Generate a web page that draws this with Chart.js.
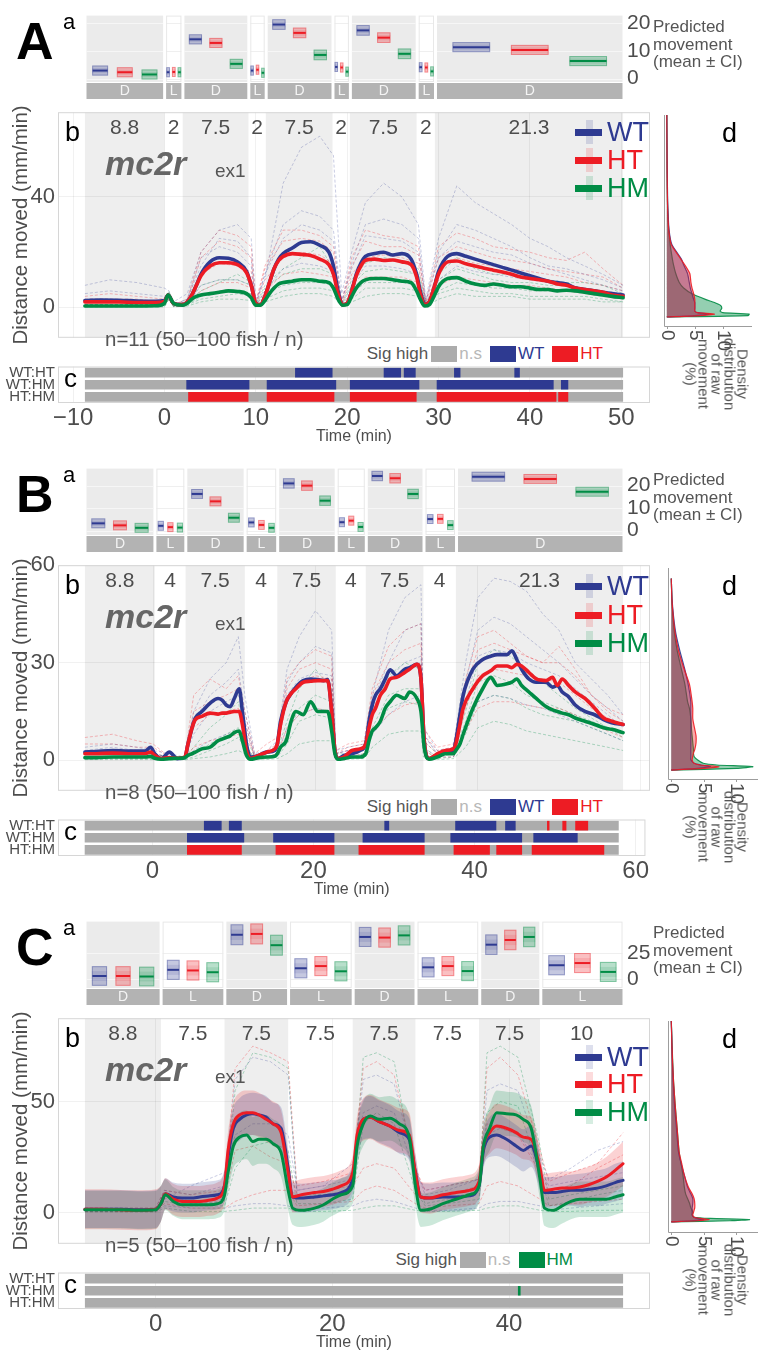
<!DOCTYPE html>
<html><head><meta charset="utf-8">
<script src="https://cdn.jsdelivr.net/npm/chart.js@4.4.1/dist/chart.umd.min.js"></script>
<style>
html,body{margin:0;padding:0;background:#fff;}
#fig{position:relative;width:762px;height:1360px;overflow:hidden;font-family:'Liberation Sans',Arial,sans-serif;color:#4d4d4d;background:#fff;}
.t{position:absolute;white-space:nowrap;line-height:1;}
canvas{position:absolute;}
</style></head><body><div id="fig"></div>
<script>
// ================= DATA =================
const genotypes = ['WT','HT','HM'];

// ---------- Panel A ----------
const periodTypesA  = ['D','L','D','L','D','L','D','L','D'];
const periodBoundsA = [-8.7,0,2,9.2,11.1,18.4,20.3,27.6,29.6,50.2];
const periodLabelsA = ['8.8','2','7.5','2','7.5','2','7.5','2','21.3'];
const predA_WT = [2.9,2.3,14.1,2.9,19.4,4.2,17.3,4.1,11.3];
const predA_HT = [2.3,2.4,12.8,3.2,16.4,4.0,14.7,4.0,10.3];
const predA_HM = [1.5,2.3,5.3,2.1,8.5,2.5,8.9,2.6,6.3];
const predCiA  = [1.8,1.8,1.8,1.8,1.9,1.8,1.9,1.8,1.8];
const aTicksA = [0,10,20];
const yTicksA = [0,40];
const xTicksA = [-10,0,10,20,30,40,50];
const xTickLabelsA = ['\u221210','0','10','20','30','40','50'];
const timeA = [-8.7,-7,-5,-3,-1, 0,0.4,1,2,2.5, 3,3.5,4,5,6, 7,8,9,9.5,10, 10.5,11,11.5,12,12.5, 13,14,15,16,17, 18,18.5,19,19.5,20, 20.5,21,21.5,22,23, 24,25,26,27,27.6, 28,28.5,29,29.5,30, 30.5,31,32,33,34, 35,36,37,38,39, 40,41,42,43,44, 45,46,47,48,49, 50.2];
const meanA_WT = [2.5,2.7,2.6,2.3,2.2, 2.5,4.5,1.5,1,2, 4.5,8,12,16.5,18, 17.8,16.5,13,8,1.5, 1,4,9,14,17.5, 19.5,21.5,23.5,23.8,22.5, 20,15,6,1,1.5, 6,12,16,18.5,19.5, 20,19,19.5,17.5,12, 6,1,2,7,13, 16.5,18.5,19.5,18.5,17.5, 16.5,15.5,14.5,13.5,12.5, 11.5,10.5,9.5,9,8.5, 7,6.5,6,5.5,5, 4.5];
const meanA_HT = [2,2,2,1.8,1.8, 2.2,4.5,1.5,1,2, 4.5,8,11.5,15,16.2, 16.2,15.5,12.5,8,1.5, 1,4,9,14,17, 18.5,19.5,19.2,18.8,17.5, 15.5,12,5,1,1.5, 6,11.5,15,17,17.5, 17,17.2,16.5,15.5,11, 5,1,2,7,12, 15,16.5,16.8,15.8,15, 14.2,13.5,12.8,12,11, 10.5,10,9.5,8.5,8, 7,6.5,6,5.5,4.5, 4];
const meanA_HM = [0.5,0.5,0.5,0.5,0.6, 1.5,4.5,1.5,0.8,1.5, 3,4,4.5,5,5.5, 6,5.8,5,3.5,0.8, 0.8,2.5,5,7,8.5, 9,9.5,10,10,9.5, 9,7,3,0.8,1, 4,7,9,10,10.5, 10.5,10,9.5,9,6, 3,0.5,1,4,7.5, 9.5,10.5,10.8,9.5,8.5, 8,8.5,8,7.5,7.5, 7,6.5,6.5,6,6.2, 6,5.5,5,4.5,4, 3.5];
const timeIndA = [-8.7,-6,-3,0,0.5, 1,2.5,4,6,8, 9.5,10,11,13,15, 17,18.5,19.4,20.5,22, 24,26,27.8,28.6,30, 32,34,36,38,40, 42,44,46,48,50.2];
const indA_WT1 = [8,10,9,7,6, 2,5,20,28,30, 25,3,10,45,58, 62,55,5,20,38, 45,40,30,3,25, 44,38,34,30,25, 22,18,15,12,8];
const indA_WT2 = [3,3,2,2,4, 1,3,18,22,20, 15,1,12,25,30, 28,24,2,14,26, 25,24,20,2,18, 24,22,20,19,16, 14,12,10,8,6];
const indA_WT3 = [1,1,1,1,3, 0.5,1,8,10,10, 8,0.5,6,14,16, 15,13,0.5,8,15, 15,14,12,0.5,10, 15,13,12,11,10, 9,8,7,6,5];
const indA_WT4 = [5,6,5,4,5, 1,3,15,25,24, 18,1,12,30,35, 33,28,2,16,30, 32,30,25,2,20, 30,28,25,22,18, 15,14,12,10,7];
const indA_HT1 = [4,5,4,3,5, 1,3,20,28,26, 22,2,15,28,28, 26,22,2,18,28, 26,25,22,2,22, 27,25,22,21,20, 18,17,20,14,8];
const indA_HT2 = [2,2,2,2,4, 1,2,12,16,15, 13,1,10,18,20, 19,16,1,12,18, 19,18,16,1,14, 18,16,15,14,13, 12,11,9,8,6];
const indA_HT3 = [1,1,1,1,3, 0.5,1,6,9,9, 7,0.5,6,12,13, 12,11,0.5,6,11, 11,11,9,0.5,8, 11,10,9,8,8, 7,6,5,4,3];
const indA_HT4 = [3,3,3,2,4, 1,2,18,24,22, 18,1,14,24,25, 24,20,1,15,24, 22,22,19,1,18, 22,20,18,17,16, 14,13,12,11,7];
const indA_HM1 = [1,1,1,1,6, 1,2,8,10,10, 8,1,8,14,18, 22,14,1,10,16, 18,17,14,1,12, 18,14,12,12,11, 10,9,9,8,5];
const indA_HM2 = [0.5,0.5,0.5,0.5,4, 0.5,1,4,6,6, 5,0.5,5,8,9, 9,8,0.5,5,9, 9,9,8,0.5,6, 9,8,7,7,6, 6,6,5,4,3];
const indA_HM3 = [0.2,0.2,0.2,0.2,3, 0.2,0.5,2,3,3, 2.5,0.2,2,4,5, 5,4,0.2,2,4, 5,5,4,0.2,3, 5,4,4,4,3, 3,3,3,2,2];
const indA_HM4 = [1,1,1,1,5, 1,2,6,9,12, 9,1,7,12,14, 14,12,1,8,13, 14,13,12,1,10, 14,12,10,9,9, 8,8,7,6,4];
const indA_HM5 = [0.3,0.3,0.3,0.3,3, 0.3,1,3,4,5, 4,0.3,3,6,7, 7,6,0.3,3,7, 7,7,6,0.3,5, 7,6,5,5,4, 4,4,4,3,2];
const sigA_WTHT = [[14.3,18.4,'WT'],[24.0,25.9,'WT'],[26.2,27.5,'WT'],[31.7,32.4,'WT'],[38.3,38.9,'WT']];
const sigA_WTHM = [[2.4,9.3,'WT'],[11.2,18.8,'WT'],[20.3,27.9,'WT'],[29.8,42.6,'WT'],[43.4,44.2,'WT']];
const sigA_HTHM = [[2.6,9.2,'HT'],[11.2,18.6,'HT'],[20.3,27.6,'HT'],[29.8,42.9,'HT'],[43.1,44.2,'HT']];
const densGridA = [0,0.5,1,1.5,2,3,4,5,6,8,10,12,15,18,20,25,30,35,40,50,60,70];
const densA_WT = [0,5,7.5,5.5,5,5,5,5,4.8,4.5,4.2,4,3.7,3,2.6,0.9,0.4,0.25,0.15,0.08,0.04,0];
const densA_HT = [0,6,8.5,5.5,5,5,5,5,5,4.8,4.5,4.3,4.1,3.2,2.5,0.8,0.35,0.2,0.12,0.06,0.03,0];
const densA_HM = [0,14.5,14.7,10,9.5,9.8,9.6,8.5,7,4.5,3,2.2,1.6,1.2,1,0.6,0.35,0.2,0.12,0.06,0.03,0];

// ---------- Panel B ----------
const periodTypesB  = ['D','L','D','L','D','L','D','L','D'];
const periodBoundsB = [-8.4,0.2,4,11.3,15.3,22.5,26.2,33.3,37.3,57.9];
const periodLabelsB = ['8.8','4','7.5','4','7.5','4','7.5','4','21.3'];
const predB_WT = [3.2,2.1,16.3,3.6,21,3.7,24.3,5.1,24];
const predB_HT = [2.3,1.5,13,2.5,20,4.4,23.3,5.2,23];
const predB_HM = [1.2,1.3,5.7,1.2,13.3,1.6,16.3,2.4,17.3];
const predCiB  = [2.2,2.2,2.2,2.2,2.3,2.2,2.3,2.2,2.2];
const aTicksB = [0,10,20];
const yTicksB = [0,30,60];
const xTicksB = [0,20,40,60];
const xTickLabelsB = ['0','20','40','60'];
const timeB = [-8.4,-7,-5,-3,-1, -0.3,0.2,1,2,3, 3.9,4.3,4.8,5.2,6, 7,8,8.5,9,9.5, 10,10.6,11,11.5,12, 13,14,15,15.3,15.7, 16.4,17,17.6,18.5,19.4, 20.3,21,21.5,22,22.4, 22.8,23.5,24.5,25.5,26.2, 26.6,27,27.4,28,28.6, 29.2,30,31,31.6,32.5, 33,33.4,34,35,36, 37,37.3,37.8,38.2,39.4, 40.6,41.6,42.4,43.6,44.2, 44.8,45.4,46.3,47.2,48.4, 49.2,49.8,50.4,51.2,52, 53.2,54.4,55.5,56.5,57.9];
const meanB_WT = [2.5,2.7,3,2.8,2.8, 4,2,0.5,2.5,0.5, 0.8,5,10,13,15, 17.5,19,18.5,17,16.5, 19,22,15,5,1, 1.5,2.5,3,5,12, 18,20.5,22.5,24.5,25, 24.8,24.5,24.8,15,3, 0.5,1.5,2,3,5, 12,17,20,22,25, 27.8,26,28,28.5,29.5, 25,6,0.5,1.5,2.5, 3,6,14,20,28, 31,32,32.5,32.5,33.7, 31,28,25,24,24, 22.5,23,21,19.5,17, 15,14,12.5,11.5,11];
const meanB_HT = [2,2,2.2,2,2, 2.5,1.5,0.5,0.8,0.6, 1,5,10,12.5,13.5, 14.5,14.2,14.5,14.5,14.8, 15,15,11,3,0.5, 1.5,2.5,3.5,5,11, 18,20.5,22,24,24.3, 24.5,24.5,24.5,15,3, 0.5,1,3,3.5,5, 10,14,16,20,22, 25,25.5,27,28,29.5, 25,6,0.5,2,3, 3.5,5,11,16,22, 26,27.5,29,29,28.5, 29.5,29,27,25,24.5, 25.5,23,25,23,21, 19,16,13,12,11];
const meanB_HM = [0.8,0.8,1,1,1, 1.2,0.6,0.3,0.5,0.6, 0.8,1.5,2,2.5,3.5, 4,6,6.5,7,7.5, 8.5,9,6,1.5,0.3, 0.8,1,1.2,2,4, 6,12,15,14,18, 15,15,15,9,2, 0.3,0.5,1,1,2, 6,9,10,12,16, 18,20,19,21,19, 15,4,0.3,1,2, 2,3,5,8,16, 22,25.5,23,23.5,24, 25,23,21,19,16.5, 15.5,15,14.5,14,13, 12,11,10,9.5,8.5];
const timeIndB = [-8.4,-5,-2,0,2, 3.9,5,7,9,10.5, 11.3,12.5,14,15.3,16.5, 18,20,22,22.5,24, 26,27,29,31,33, 33.3,35,37,38.5,40, 42,44,46,48,50, 52,54,56,57.9];
const indB_WT1 = [4,5,4,3,2, 1,15,25,30,38, 20,2,3,6,28, 38,46,40,3,4, 5,20,40,50,54, 10,3,4,30,50, 56,55,52,45,40, 30,25,20,14];
const indB_WT2 = [2,3,3,2,1, 1,8,15,18,20, 12,1,2,4,20, 25,27,26,2,3, 4,15,25,30,32, 8,2,3,18,32, 34,33,30,28,26, 22,18,14,10];
const indB_WT3 = [1,1,1,1,0.5, 0.5,3,6,8,9, 5,0.5,1,2,10, 14,16,15,1,1, 2,8,14,18,20, 4,1,1,10,18, 20,19,17,16,14, 12,10,8,6];
const indB_WT4 = [3,4,3,2,1, 1,12,20,24,28, 15,1,2,5,24, 30,35,33,2,3, 4,18,30,40,42, 8,2,3,24,40, 44,42,38,34,30, 25,20,16,12];
const indB_HT1 = [7,8,6,5,1, 1,20,25,22,26, 15,2,5,7,25, 30,34,32,3,5, 6,22,35,40,42, 10,4,5,25,38, 40,36,32,30,35, 28,20,16,14];
const indB_HT2 = [3,3,3,2,1, 1,10,14,15,16, 10,1,2,4,18, 24,26,25,2,3, 4,16,24,28,30, 6,2,3,16,26, 28,27,26,25,24, 20,16,13,11];
const indB_HT3 = [1,1,1,1,0.5, 0.5,4,6,7,8, 5,0.5,1,2,10, 14,16,15,1,1, 2,9,14,17,18, 3,1,1,9,16, 18,18,17,16,16, 14,11,9,7];
const indB_HT4 = [5,5,4,4,1, 1,15,18,20,22, 12,1,3,5,22, 28,30,28,2,4, 5,20,30,34,36, 8,3,4,22,34, 36,34,32,30,30, 26,20,15,12];
const indB_HM1 = [2,2,2,2,1, 1,4,10,14,18, 8,1,2,3,12, 22,28,22,2,2, 3,14,26,30,28, 6,2,3,15,30, 34,32,28,24,20, 16,13,10,8];
const indB_HM2 = [0.5,0.5,0.5,0.5,0.3, 0.3,1,3,5,7, 4,0.3,0.5,1,5, 12,14,13,0.5,0.5, 1,8,16,18,17, 3,0.5,1,8,18, 20,19,16,14,13, 12,10,8,6];
const indB_HM3 = [0.2,0.2,0.2,0.2,0.1, 0.1,0.5,1,2,3, 2,0.1,0.2,0.5,2, 5,6,6,0.2,0.3, 0.5,4,8,9,9, 1,0.2,0.5,4,10, 12,11,9,8,7, 6,5,4,3];
const indB_HM4 = [1,1,1,1,0.5, 0.5,2,5,8,10, 5,0.5,1,2,8, 16,20,18,1,1, 2,10,20,22,22, 4,1,2,12,24, 26,24,20,18,16, 14,12,10,7];
const sigB_WTHT = [[6.4,8.6,'WT'],[9.5,11.1,'WT'],[28.8,29.4,'WT'],[37.6,42.7,'WT'],[43.8,45.1,'WT'],[49.0,49.3,'HT'],[50.9,51.4,'HT'],[52.5,54.1,'HT']];
const sigB_WTHM = [[4.3,11.4,'WT'],[15.0,22.6,'WT'],[26.1,33.8,'WT'],[37.0,45.9,'WT'],[47.3,52.8,'WT']];
const sigB_HTHM = [[4.3,11.1,'HT'],[15.3,22.6,'HT'],[25.6,33.8,'HT'],[37.4,41.9,'HT'],[42.7,45.9,'HT'],[47.1,56.1,'HT']];
const densGridB = [0,0.5,1,1.5,2,3,4,5,6,8,10,12,15,18,20,25,30,35,40,45,50,56];
const densB_WT = [0,4,6,4.5,3.5,3,3,3,3,3,3,3,3,3,3,2.6,2,1.3,0.7,0.35,0.12,0];
const densB_HT = [0,5,7.3,4.5,3.5,3.2,3.3,3.4,3.6,3.8,3.8,3.6,3.3,3.3,3.2,2.8,1.9,1.1,0.6,0.3,0.1,0];
const densB_HM = [0,10,12.5,7,4.9,4,3.5,3.4,3.4,3.3,3.2,3.1,3,2.8,2.5,2.1,1.5,0.9,0.5,0.25,0.1,0];

// ---------- Panel C ----------
const periodTypesC  = ['D','L','D','L','D','L','D','L'];
const periodBoundsC = [-8,0.6,7.8,15,22.3,29.4,36.6,43.5,52.9];
const periodLabelsC = ['8.8','7.5','7.5','7.5','7.5','7.5','7.5','10'];
const predC_WT = [2.9,8.8,42.4,10.3,40.3,11.2,32.9,13.2];
const predC_HT = [2.9,8.2,43.2,12.4,39.7,12.4,37.4,15.3];
const predC_HM = [2.4,6.5,32.4,7.4,41.8,7.6,40.3,6.8];
const predCiC  = [9.4,9.6,10,9.6,9.6,9.6,9.8,9.6];
const aTicksC = [0,25];
const yTicksC = [0,50];
const xTicksC = [0,20,40];
const xTickLabelsC = ['0','20','40'];
const timeC = [-8,-6,-4,-2,0, 0.6,1.1,2,3,4, 5,6,7,7.8,8.2, 8.8,9.5,10.3,11,11.7, 12.5,13.3,14.2,15,15.5, 16.5,18,19,20,21, 22.3,22.8,23.5,24.3,25.3, 26.5,27.6,28.7,29.4,30, 31,32.5,34,35.5,36.6, 37.1,37.8,38.6,39.7,40.8, 41.6,42.5,43.5,44,45, 46,47,48,49,50, 51,52,52.9];
const meanC_WT = [1.5,1.5,1.5,1.2,1.5, 4,8.5,7,6.5,6.5, 7,7.5,8,12,25, 38,42,44,44.5,44, 43,40,38,20,7, 6.5,7,7.5,8,9, 15,32,42,43,41, 39,36,33,18,7, 6.5,7,7,7.5,12, 28,34,35,33,30, 28,30,18,9,9, 9.5,10,10,10.5,11, 12,13.5,14.5];
const meanC_HT = [1.5,1.5,1.2,1,1.5, 4,8.5,6,5,5, 5,5.5,6.5,12,28, 40,44,45,45,44, 42,40,36,18,7, 8,9,9.5,10.5,12, 18,35,42,43,41, 39,37,35,18,7, 6.5,8,9,10,14, 30,36,39,38,36, 34,33,20,10,10.5, 11,11,11.5,12.5,14, 16,19,22];
const meanC_HM = [1.3,1.3,1.3,1,1.2, 4,8,5,3.5,3.5, 3.5,3.5,4,8,18, 30,34,35,32,33, 33,31,27,10,2, 1,2,3.5,6,8, 12,30,40,43.5,42, 42.5,40,34,12,1, 1.5,4,6,8,12, 30,38,45,44.5,44, 42,38,15,2,1, 3,5,6,6,6, 6,7,8];
const ciC_WT = [8.5,8.5,8.5,8.5,8.5, 8,7,6.5,6.5,6.5, 6.5,6.5,6.5,7,8, 9,9.5,9.5,9.5,9.5, 9.5,9.5,9.5,8,6.5, 6.5,6.5,6.5,6.5,6.5, 7,8,9,9.5,9.5, 9.5,9.5,9.5,8,6.5, 6.5,6.5,6.5,6.5,7, 8,9,9.5,9.5,9.5, 9.5,9.5,8,7,7, 7,7,7.5,7.5,8, 8,8.5,8.5];
const ciC_HT = [9,9,9,9,9, 8,7,7,7,7, 7,7,7,7.5,8.5, 9.5,10,10,10,10, 10,10,10,8.5,7, 7,7,7,7,7, 7.5,8.5,9.5,10,10, 10,10,10,8.5,7, 7,7,7,7,7.5, 8.5,9.5,10,10,10, 10,10,8.5,7.5,7.5, 7.5,7.5,8,8,8.5, 9,9.5,10];
const ciC_HM = [8.5,8.5,8.5,8.5,8.5, 8,7,6.5,6.5,6.5, 6.5,6.5,6.5,7,8.5, 10,11,11,11,11, 11,11,11,9,7.5, 7.5,7.5,7.5,7.5,7.5, 8,9,10,10,10, 10,10,10,9,7.5, 7.5,7.5,7.5,7.5,8, 9,10,10,10,10, 10,10,9,8,8, 8,8,8,8,8, 8,8,8];
const timeIndC = [-8,-4,0,1,4, 7.8,9,11,13,15, 16,19,22.3,23.5,25, 27,29.4,30.5,33,36.6, 37.5,39,41,43.5,44.5, 47,50,52.9];
const indC_WT1 = [2,2,2,10,8, 12,60,70,68,62, 10,12,15,60,62, 58,20,8,10,15, 55,58,55,25,15, 20,28,32];
const indC_WT2 = [1,1,1,6,12, 18,35,40,40,35, 10,12,22,45,48, 45,18,10,12,15, 35,38,36,20,12, 14,16,18];
const indC_WT3 = [0.5,0.5,0.5,3,2, 2,3,4,4,3, 1,2,3,5,6, 5,2,1,1,2, 4,5,5,3,1, 2,3,4];
const indC_HT1 = [2,2,2,10,8, 10,65,75,72,68, 12,14,18,65,68, 62,20,10,12,15, 65,70,62,28,14, 18,22,36];
const indC_HT2 = [1,1,1,8,5, 6,28,30,25,22, 8,10,12,20,22, 20,8,6,8,12, 40,38,35,18,10, 12,20,26];
const indC_HT3 = [0.5,0.5,0.5,4,2, 2,5,8,10,10, 3,4,5,10,12, 10,4,2,3,4, 12,14,12,6,3, 4,5,6];
const indC_HM1 = [1,1,1,8,4, 5,55,72,70,65, 8,8,10,70,72, 68,15,4,6,10, 72,75,70,30,6, 8,10,12];
const indC_HM2 = [0.5,0.5,0.5,5,3, 3,20,30,32,28, 4,4,6,40,45, 40,10,3,4,6, 45,50,48,18,3, 5,8,10];
const indC_HM3 = [0.2,0.2,0.2,2,0.5, 0.5,1,2,2,2, 0.5,0.5,1,2,3, 3,1,0.5,0.5,1, 2,3,3,1,0.5, 0.5,1,1];
const sigC_WTHT = [];
const sigC_WTHM = [[41.0,41.3,'HM']];
const sigC_HTHM = [];
const densGridC = [0,0.5,1,1.5,2,3,4,5,6,8,10,12,15,20,25,30,40,50,60,70,80,86];
const densC_WT = [0,3,5,4,3.5,3.2,3.2,3.2,3.2,3.3,3.3,3,2.5,2,1.5,1.1,0.8,0.5,0.3,0.15,0.06,0];
const densC_HT = [0,4,5.8,4.5,3.5,3.3,3.4,3.5,3.6,3.6,3.5,3.2,2.6,2,1.6,1.2,0.9,0.6,0.35,0.18,0.06,0];
const densC_HM = [0,9,12,6,3.5,3.2,3.3,3.2,3,2.8,2.5,2.2,2,1.8,1.5,1.2,0.9,0.6,0.35,0.2,0.08,0];

const densTicks = [0,5,10];
const densTickLabels = ['0','5','10'];
const sigRows = ['WT:HT','WT:HM','HT:HM'];

// ================= STYLE / BUILD =================
Chart.defaults.font.family = "'Liberation Sans', Arial, sans-serif";
Chart.defaults.color = '#4d4d4d';
const COL = {WT:[46,58,145], HT:[237,28,36], HM:[0,140,69]};
const rgba = (g,a)=>`rgba(${COL[g].join(',')},${a})`;
const fig = document.getElementById('fig');

function addCanvas(x,y,w,h){const c=document.createElement('canvas');c.width=w;c.height=h;c.style.left=x+'px';c.style.top=y+'px';c.style.width=w+'px';c.style.height=h+'px';fig.appendChild(c);return c;}
function txt(s,x,y,css,anchor){const d=document.createElement('div');d.className='t';d.textContent=s;d.style.left=x+'px';d.style.top=y+'px';Object.assign(d.style,css||{});
  d.style.transform=anchor==='c'?'translate(-50%,-50%)':(anchor==='r'?'translate(-100%,-50%)':'translate(0,-50%)');fig.appendChild(d);return d;}

const panels = [
 {key:'A',top:0,types:periodTypesA,bounds:periodBoundsA,labels:periodLabelsA,pred:{WT:predA_WT,HT:predA_HT,HM:predA_HM},predCi:predCiA,
  aRange:[-1.2,22.6],aTicks:aTicksA,yRange:[-11,70.7],yTicks:yTicksA,xTicks:xTicksA,xTickLabels:xTickLabelsA,
  t:timeA,mean:{WT:meanA_WT,HT:meanA_HT,HM:meanA_HM},ci:null,tInd:timeIndA,
  ind:{WT:[indA_WT1,indA_WT2,indA_WT3,indA_WT4],HT:[indA_HT1,indA_HT2,indA_HT3,indA_HT4],HM:[indA_HM1,indA_HM2,indA_HM3,indA_HM4,indA_HM5]},
  sig:[sigA_WTHT,sigA_WTHM,sigA_HTHM],sigLeg:['WT','HT'],sigRight:604,
  dGrid:densGridA,dens:{WT:densA_WT,HT:densA_HT,HM:densA_HM},dX:[-0.5,15.2],dY:[-3.1,69.7],dPad:[24,10],
  n:'n=11 (50\u2013100 fish / n)',legY:[132,160,188],meanW:3.6},
 {key:'B',top:453,types:periodTypesB,bounds:periodBoundsB,labels:periodLabelsB,pred:{WT:predB_WT,HT:predB_HT,HM:predB_HM},predCi:predCiB,
  aRange:[-2,27.6],aTicks:aTicksB,yRange:[-9.4,60],yTicks:yTicksB,xTicks:xTicksB,xTickLabels:xTickLabelsB,
  t:timeB,mean:{WT:meanB_WT,HT:meanB_HT,HM:meanB_HM},ci:null,tInd:timeIndB,
  ind:{WT:[indB_WT1,indB_WT2,indB_WT3,indB_WT4],HT:[indB_HT1,indB_HT2,indB_HT3,indB_HT4],HM:[indB_HM1,indB_HM2,indB_HM3,indB_HM4]},
  sig:[sigB_WTHT,sigB_WTHM,sigB_HTHM],sigLeg:['WT','HT'],sigRight:604,
  dGrid:densGridB,dens:{WT:densB_WT,HT:densB_HT,HM:densB_HM},dX:[-0.5,13.3],dY:[-2.6,59.1],dPad:[28,4],
  n:'n=8 (50\u2013100 fish / n)',legY:[133,162,190],meanW:3.6},
 {key:'C',top:906,types:periodTypesC,bounds:periodBoundsC,labels:periodLabelsC,pred:{WT:predC_WT,HT:predC_HT,HM:predC_HM},predCi:predCiC,
  aRange:[-8.6,55],aTicks:aTicksC,yRange:[-14.1,87.6],yTicks:yTicksC,xTicks:xTicksC,xTickLabels:xTickLabelsC,
  t:timeC,mean:{WT:meanC_WT,HT:meanC_HT,HM:meanC_HM},ci:{WT:ciC_WT,HT:ciC_HT,HM:ciC_HM},tInd:timeIndC,
  ind:{WT:[indC_WT1,indC_WT2,indC_WT3],HT:[indC_HT1,indC_HT2,indC_HT3],HM:[indC_HM1,indC_HM2,indC_HM3]},
  sig:[sigC_WTHT,sigC_WTHM,sigC_HTHM],sigLeg:['HM'],sigRight:574,
  dGrid:densGridC,dens:{WT:densC_WT,HT:densC_HT,HM:densC_HM},dX:[-0.5,13.3],dY:[-4.3,85.9],dPad:[28,4],
  n:'n=5 (50\u2013100 fish / n)',legY:[151,178,206],meanW:3}
];

const FONT = "'Liberation Sans', Arial, sans-serif";

function aPlugin(P){return {id:'aPanel',
 beforeDraw(chart){const {ctx,chartArea:ca,scales:{x,y}}=chart;ctx.save();
  for(let i=0;i<P.types.length;i++){
   const x0=x.getPixelForValue(P.bounds[i])+1.5,x1=x.getPixelForValue(P.bounds[i+1])-1.5,D=P.types[i]==='D';
   ctx.fillStyle=D?'#ebebeb':'#ffffff';ctx.fillRect(x0,ca.top,x1-x0,ca.bottom-ca.top);
   ctx.lineWidth=1;ctx.strokeStyle=D?'#f6f6f6':'#efefef';
   P.aTicks.forEach(v=>{const py=Math.round(y.getPixelForValue(v))+0.5;ctx.beginPath();ctx.moveTo(x0,py);ctx.lineTo(x1,py);ctx.stroke();});
   if(!D){ctx.strokeStyle='#e8e8e8';ctx.strokeRect(x0+0.5,ca.top+0.5,x1-x0-1,ca.bottom-ca.top-1);}
   ctx.fillStyle='#b3b3b3';ctx.fillRect(x0,ca.bottom+1,x1-x0,16);
   ctx.fillStyle='#f4f4f4';ctx.font='14px '+FONT;ctx.textAlign='center';ctx.textBaseline='middle';
   ctx.fillText(P.types[i],(x0+x1)/2,ca.bottom+9.5);
  }ctx.restore();},
 afterDraw(chart){const {ctx,scales:{x,y}}=chart;ctx.save();const fr=[0.19,0.5,0.81];
  genotypes.forEach((g,k)=>{P.pred[g].forEach((m,i)=>{
   const b0=P.bounds[i],b1=P.bounds[i+1],d=b1-b0,c=b0+fr[k]*d;
   const px0=x.getPixelForValue(c-0.1*d),px1=x.getPixelForValue(c+0.1*d);
   const ci=P.predCi[i],py0=y.getPixelForValue(m+ci),py1=y.getPixelForValue(m-ci),pm=y.getPixelForValue(m);
   ctx.fillStyle=rgba(g,0.28);ctx.fillRect(px0,py0,px1-px0,py1-py0);
   ctx.fillStyle=rgba(g,0.12);ctx.fillRect(px0,pm-(pm-py0)*0.5,px1-px0,(py1-py0)*0.5);
   ctx.strokeStyle=rgba(g,0.35);ctx.lineWidth=1;ctx.strokeRect(px0+0.5,py0+0.5,px1-px0-1,py1-py0-1);
   ctx.strokeStyle=rgba(g,1);ctx.lineWidth=2;ctx.beginPath();ctx.moveTo(px0+0.5,pm);ctx.lineTo(px1-0.5,pm);ctx.stroke();
  });});ctx.restore();}};}

function bPlugin(P){return {id:'bPanel',
 beforeDraw(chart){const {ctx,chartArea:ca,scales:{x}}=chart;ctx.save();ctx.fillStyle='#fff';ctx.fillRect(ca.left,ca.top,ca.width,ca.height);
  P.types.forEach((tp,i)=>{if(tp!=='D')return;const x0=x.getPixelForValue(P.bounds[i]),x1=x.getPixelForValue(P.bounds[i+1]);ctx.fillStyle='#eeeeee';ctx.fillRect(x0,ca.top,x1-x0,ca.height);});
  ctx.restore();},
 beforeDatasetsDraw(chart){const {ctx,chartArea:ca,scales:{x}}=chart;ctx.save();ctx.fillStyle='#4d4d4d';ctx.font='21px '+FONT;ctx.textAlign='center';ctx.textBaseline='middle';
  P.labels.forEach((l,i)=>{const xm=x.getPixelForValue((P.bounds[i]+P.bounds[i+1])/2);ctx.fillText(l,xm,ca.top+16);});ctx.restore();},
 afterDraw(chart){const {ctx,chartArea:ca}=chart;ctx.save();ctx.strokeStyle='#d6d6d6';ctx.lineWidth=1;ctx.strokeRect(ca.left+0.5,ca.top+0.5,ca.width-1,ca.height-1);ctx.restore();}};}

function cPlugin(P){return {id:'cPanel',afterDraw(chart){const {ctx,chartArea:ca}=chart;ctx.save();ctx.strokeStyle='#d6d6d6';ctx.lineWidth=1;ctx.strokeRect(ca.left+0.5,ca.top+0.5,ca.width-1,ca.height-1);ctx.restore();}};}

function dPlugin(P){return {id:'dPanel',afterDraw(chart){const {ctx,chartArea:ca,scales:{x}}=chart;ctx.save();ctx.strokeStyle='#9d9d9d';ctx.lineWidth=1;
  ctx.beginPath();ctx.moveTo(ca.left+0.5,ca.top);ctx.lineTo(ca.left+0.5,ca.bottom+0.5);ctx.lineTo(ca.right,ca.bottom+0.5);ctx.stroke();
  densTicks.forEach((v,i)=>{const px=Math.round(x.getPixelForValue(v))+0.5;ctx.beginPath();ctx.moveTo(px,ca.bottom);ctx.lineTo(px,ca.bottom+3);ctx.stroke();
   ctx.save();ctx.translate(px,ca.bottom+4);ctx.rotate(Math.PI/2);ctx.fillStyle='#4d4d4d';ctx.font='19px '+FONT;ctx.textAlign='left';ctx.textBaseline='middle';ctx.fillText(densTickLabels[i],0,0);ctx.restore();});
  ctx.restore();}};}

const base={responsive:false,animation:false,devicePixelRatio:1,events:[],maintainAspectRatio:false};
const noPlug={legend:{display:false},tooltip:{enabled:false}};

function buildPanel(P){
 const T=P.top,B=P.bounds,b0=B[0],bN=B[B.length-1],span=bN-b0;
 const xMin=b0-0.05*span,xMax=bN+0.05*span;
 // ---- a : predicted movement
 new Chart(addCanvas(0,T,654,104),{type:'scatter',data:{datasets:[]},options:{...base,
  layout:{padding:{left:85,top:8,bottom:22,right:0}},plugins:noPlug,
  scales:{x:{type:'linear',display:false,min:b0,max:bN},
   y:{type:'linear',position:'right',min:P.aRange[0],max:P.aRange[1],
    afterBuildTicks:s=>{s.ticks=P.aTicks.map(v=>({value:v}));},afterFit:s=>{s.width=30;},
    grid:{display:false,drawTicks:false},border:{display:false},ticks:{padding:3,font:{size:21},color:'#4d4d4d'}}}},
  plugins:[aPlugin(P)]});
 // ---- b : time course
 const ds=[];
 genotypes.forEach(g=>{P.ind[g].forEach(arr=>{ds.push({data:P.tInd.map((t,i)=>({x:t,y:arr[i]})),borderColor:rgba(g,g==='WT'?0.26:0.3),borderWidth:1,borderDash:[3,2],pointRadius:0,fill:false,order:3,tension:0});});});
 if(P.ci){genotypes.forEach(g=>{
  ds.push({data:P.t.map((t,i)=>({x:t,y:P.mean[g][i]-P.ci[g][i]})),borderWidth:0,borderColor:'rgba(0,0,0,0)',pointRadius:0,fill:false,order:2,cubicInterpolationMode:'monotone'});
  ds.push({data:P.t.map((t,i)=>({x:t,y:P.mean[g][i]+P.ci[g][i]})),borderWidth:0,borderColor:'rgba(0,0,0,0)',pointRadius:0,fill:'-1',backgroundColor:rgba(g,0.2),order:2,cubicInterpolationMode:'monotone'});});}
 const mo={HM:0,HT:0.5,WT:1};
 genotypes.forEach(g=>{ds.push({data:P.t.map((t,i)=>({x:t,y:P.mean[g][i]})),borderColor:rgba(g,1),borderWidth:P.meanW,pointRadius:0,fill:false,order:mo[g],cubicInterpolationMode:'monotone',borderJoinStyle:'round',borderCapStyle:'round'});});
 new Chart(addCanvas(0,T+96,650,258),{type:'line',data:{datasets:ds},options:{...base,
  layout:{padding:{top:16,left:0,right:0,bottom:0}},plugins:noPlug,
  scales:{x:{type:'linear',min:xMin,max:xMax,afterBuildTicks:s=>{s.ticks=P.xTicks.map(v=>({value:v}));},ticks:{display:false},
    grid:{color:'rgba(0,0,0,0.055)',drawTicks:false},border:{display:false},afterFit:s=>{s.height=5;}},
   y:{type:'linear',min:P.yRange[0],max:P.yRange[1],afterBuildTicks:s=>{s.ticks=P.yTicks.map(v=>({value:v}));},
    ticks:{font:{size:22},padding:3,color:'#4d4d4d'},grid:{color:'rgba(0,0,0,0.055)',drawTicks:false},border:{display:false},
    afterFit:s=>{s.width=58;},title:{display:true,text:'Distance moved (mm/min)',font:{size:20.5,lineHeight:1},padding:{top:11,bottom:0},color:'#4d4d4d'}}}},
  plugins:[bPlugin(P)]});
 // ---- c : significance
 const sds=[{data:sigRows.map(()=>[b0,bN]),backgroundColor:'#acacac',order:1,grouped:false,categoryPercentage:1,barPercentage:0.8,borderWidth:0}];
 const maxSeg=Math.max(...P.sig.map(r=>r.length));
 for(let k=0;k<maxSeg;k++){sds.push({data:P.sig.map(r=>r[k]?[r[k][0],r[k][1]]:null),backgroundColor:P.sig.map(r=>r[k]?rgba(r[k][2],1):'rgba(0,0,0,0)'),order:0,grouped:false,categoryPercentage:1,barPercentage:0.8,borderWidth:0});}
 new Chart(addCanvas(0,T+356,650,90),{type:'bar',data:{labels:sigRows,datasets:sds},options:{...base,indexAxis:'y',
  layout:{padding:{top:7,left:0,right:0,bottom:0}},plugins:noPlug,
  scales:{x:{type:'linear',min:xMin,max:xMax,afterBuildTicks:s=>{s.ticks=P.xTicks.map(v=>({value:v}));},
    ticks:{font:{size:24},padding:1,color:'#4d4d4d',callback:v=>{const i=P.xTicks.indexOf(v);return i>=0?P.xTickLabels[i]:'';}},
    grid:{color:'rgba(0,0,0,0.06)',drawTicks:false},border:{display:false},
    title:{display:true,text:'Time (min)',font:{size:16,lineHeight:1.2},padding:0,color:'#4d4d4d'},afterFit:s=>{s.height=43;}},
   y:{ticks:{font:{size:15,lineHeight:1},padding:3,color:'#4d4d4d',autoSkip:false},grid:{display:false,drawTicks:false},border:{display:false},afterFit:s=>{s.width=58;}}}},
  plugins:[cPlugin(P)]});
 // ---- d : density
 const dds=['WT','HT','HM'].map(g=>({data:P.dGrid.map((v,i)=>({x:P.dens[g][i],y:v})),borderColor:rgba(g,0.9),borderWidth:1.2,backgroundColor:rgba(g,g==='HM'?0.42:0.38),fill:'origin',pointRadius:0,tension:0.2,order:g==='HT'?0:(g==='WT'?1:2)}));
 new Chart(addCanvas(640,T+100,122,270),{type:'line',data:{datasets:dds},options:{...base,indexAxis:'y',
  layout:{padding:{left:P.dPad[0],right:P.dPad[1],top:15,bottom:44}},plugins:noPlug,
  scales:{x:{type:'linear',display:false,min:P.dX[0],max:P.dX[1]},y:{type:'linear',display:false,min:P.dY[0],max:P.dY[1]}}},
  plugins:[dPlugin(P)]});

 // ---- text annotations
 txt(P.key,16,T+41,{fontSize:'52px',fontWeight:'bold',color:'#000'});
 txt('a',63,T+22,{fontSize:'22px',color:'#000'});
 txt('b',65,T+132,{fontSize:'27px',color:'#000'});
 txt('c',64,T+378,{fontSize:'26px',color:'#000'});
 txt('d',722,T+133,{fontSize:'27px',color:'#000'});
 txt('mc2r',105,T+163,{fontSize:'34px',fontWeight:'bold',fontStyle:'italic',color:'#666'});
 txt('ex1',215,T+170,{fontSize:'19px',color:'#555'});
 txt(P.n,105,T+339,{fontSize:'20.5px',color:'#555'});
 const pm=document.createElement('div');pm.className='t';pm.style.cssText=`left:653px;top:${T+18}px;font-size:17px;line-height:17.5px;color:#555;`;
 pm.innerHTML='Predicted<br>movement<br>(mean \u00b1 CI)';fig.appendChild(pm);
 const dt=document.createElement('div');dt.className='t';dt.style.cssText=`left:667px;top:${T+374}px;width:100px;font-size:15px;line-height:13px;color:#555;text-align:center;transform:translate(0,-50%) rotate(90deg);`;
 dt.innerHTML='Density<br>distribution<br>of raw<br>movement<br>(%)';fig.appendChild(dt);
 // b legend
 genotypes.forEach((g,i)=>{const y=T+P.legY[i];
  const v=document.createElement('div');v.style.cssText=`position:absolute;left:586px;top:${y-12}px;width:7px;height:24px;background:${rgba(g,0.16)};`;fig.appendChild(v);
  const l=document.createElement('div');l.style.cssText=`position:absolute;left:575px;top:${y-3.5}px;width:27px;height:7px;background:${rgba(g,1)};`;fig.appendChild(l);
  txt(g,607,y,{fontSize:'27px',color:rgba(g,1)});});
 // sig legend
 const w=document.createElement('div');w.style.cssText=`position:absolute;top:${T+344}px;right:${762-P.sigRight}px;height:19px;display:flex;align-items:center;background:#fff;padding:0 1px;font-size:17px;line-height:1;`;
 const sp=(s,c,ml)=>{const e=document.createElement('span');e.textContent=s;e.style.color=c;e.style.marginLeft=ml+'px';w.appendChild(e);};
 const bx=(c,ml)=>{const e=document.createElement('span');e.style.cssText=`display:inline-block;width:26px;height:16px;background:${c};margin-left:${ml}px;`;w.appendChild(e);};
 sp('Sig high','#555',0);bx('#acacac',3);sp('n.s','#b8b8b8',2);
 P.sigLeg.forEach(g=>{bx(rgba(g,1),8);sp(g,rgba(g,1),2);});
 fig.appendChild(w);
}
panels.forEach(buildPanel);
</script></body></html>
